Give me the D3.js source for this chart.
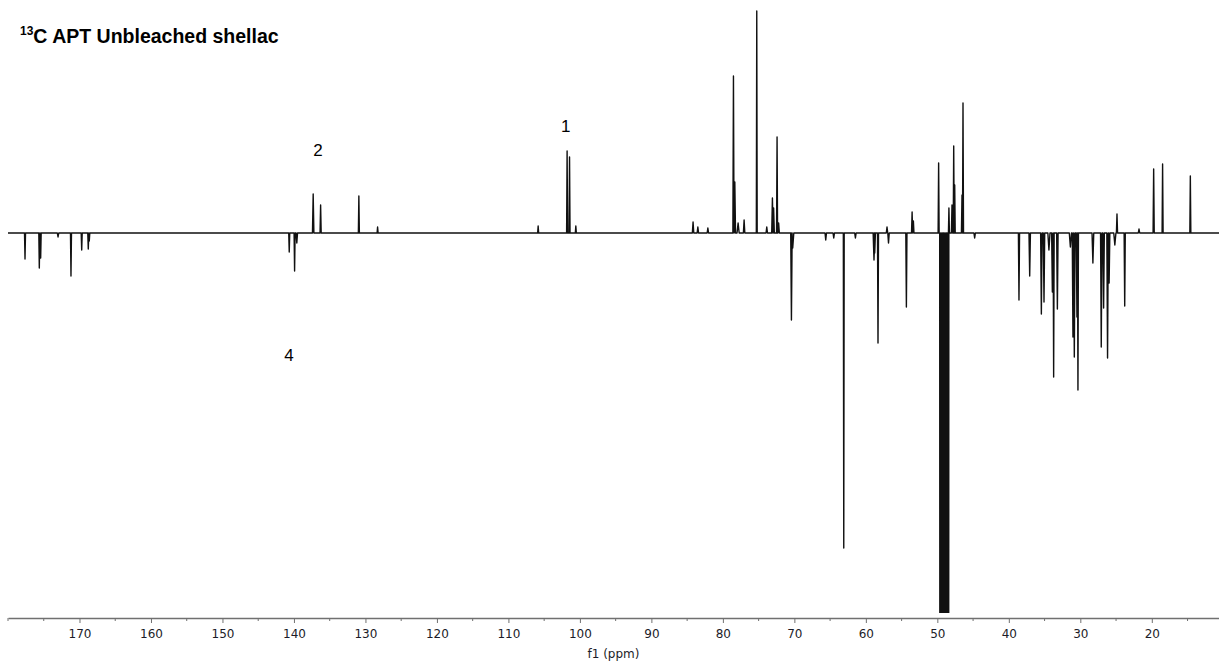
<!DOCTYPE html>
<html>
<head>
<meta charset="utf-8">
<script src="https://cdn.jsdelivr.net/npm/d3@7"></script>
<style>
  body { margin: 0; background: #fff; }
  .tick text { font-family: "DejaVu Sans", Tahoma, sans-serif; font-size: 12px; fill: #1c1c28; }
  .axis path, .axis line { stroke: #707070; }
</style>
</head>
<body>
<script>
//data: peak list [ppm, intensity (arb. units), half-width ppm]
var peakPpm = [
    177.62, 175.62, 175.43, 173.0, 171.19, 169.69, 168.77, 168.63,
    140.66, 139.91, 139.6, 137.31, 136.27, 130.92, 128.3,
    105.84, 101.79, 101.45, 100.57,
    84.17, 83.5, 82.1, 78.52, 78.33, 77.87, 77.03, 75.26, 73.86, 73.07, 72.9, 72.42, 72.2,
    70.41, 70.23, 65.61, 64.49, 63.09, 61.46, 58.86, 58.76, 58.3, 57.04, 56.83,
    54.33, 53.53, 53.35, 49.82,
    49.60, 49.41, 49.22, 49.03, 48.84, 48.65, 48.46,
    48.38, 47.95, 47.71, 47.57, 46.55, 46.41, 44.78,
    38.58, 37.08, 35.45, 35.08, 34.39, 33.91, 33.73, 33.21,
    31.39, 31.03, 30.84, 30.47, 30.33, 28.24, 27.07, 26.74, 26.19, 25.97, 25.17, 24.87,
    23.79, 21.79, 19.74, 18.49, 14.61
];
var peakInt = [
    -26, -35, -25, -4, -43, -17, -16, -8,
    -19, -38, -10, 39, 28, 37, 6,
    7, 82, 76, 7,
    11, 6, 5, 157, 51, 10, 13, 222, 6, 35, 25, 96, 10,
    -87, -15, -7, -5, -315, -5, -27, -20, -110, 6, -10,
    -74, 21, 12, 70,
    -1500, -4500, -9000, -10500, -9000, -4500, -1500,
    25, 28, 87, 48, 38, 130, -5,
    -67, -43, -81, -69, -17, -59, -144, -76,
    -14, -104, -124, -84, -157, -30, -114, -75, -125, -50, -12, 19,
    -73, 4, 64, 69, 57
];
var peakWidth = [
    0.07, 0.07, 0.07, 0.1, 0.07, 0.07, 0.07, 0.07,
    0.07, 0.07, 0.1, 0.1, 0.08, 0.07, 0.07,
    0.07, 0.07, 0.07, 0.07,
    0.1, 0.1, 0.1, 0.08, 0.1, 0.15, 0.1, 0.06, 0.1, 0.1, 0.1, 0.07, 0.1,
    0.1, 0.15, 0.1, 0.1, 0.06, 0.1, 0.12, 0.1, 0.07, 0.1, 0.1,
    0.08, 0.08, 0.08, 0.07,
    0.07, 0.07, 0.07, 0.07, 0.07, 0.07, 0.07,
    0.07, 0.08, 0.07, 0.07, 0.08, 0.07, 0.1,
    0.08, 0.1, 0.1, 0.1, 0.15, 0.1, 0.07, 0.1,
    0.15, 0.1, 0.1, 0.1, 0.07, 0.12, 0.1, 0.1, 0.1, 0.1, 0.15, 0.08,
    0.08, 0.1, 0.08, 0.07, 0.07
];
// peak labels
var labelText = ["1", "2", "4"];
var labelPpm = [101.97, 136.65, 140.7];
var labelInt = [107, 83, -122];
// axis ticks
var majorTicks = [170, 160, 150, 140, 130, 120, 110, 100, 90, 80, 70, 60, 50, 40, 30, 20];
var minorTicks = [180, 175, 165, 155, 145, 135, 125, 115, 105, 95, 85, 75, 65, 55, 45, 35, 25, 15];
var ppmBegin = 180, ppmEnd = 10.6;
var intMin = -380, intMax = 233;

var W = 1219, H = 665;
var m = [0, 0, 47, 8]; //top right bottom left
var plotBottom = 613;

var x = d3.scaleLinear().domain([ppmBegin, ppmEnd]).range([m[3], W - m[1]]);
var y = d3.scaleLinear().domain([intMin, intMax]).range([plotBottom, m[0]]);

var svg = d3.select("body").append("svg")
    .attr("width", W)
    .attr("height", H);

svg.append("defs").append("clipPath")
    .attr("id", "clip")
    .append("rect")
    .attr("x", m[3])
    .attr("y", 0)
    .attr("width", W - m[3])
    .attr("height", plotBottom);

//build spectrum trace from the peak list
var peaks = peakPpm.map(function (p, i) { return { ppm: p, v: peakInt[i], w: peakWidth[i] }; })
    .sort(function (a, b) { return b.ppm - a.ppm; });
var pts = [[ppmBegin, 0]];
peaks.forEach(function (d) {
    pts.push([d.ppm + d.w, 0], [d.ppm, d.v], [d.ppm - d.w, 0]);
});
pts.push([ppmEnd, 0]);

var line = d3.line()
    .x(function (d) { return x(d[0]); })
    .y(function (d) { return y(d[1]); });

svg.append("g")
    .attr("clip-path", "url(#clip)")
    .append("path")
    .datum(pts)
    .attr("d", line)
    .attr("fill", "none")
    .attr("stroke", "#111")
    .attr("stroke-width", 1.4)
    .attr("stroke-linejoin", "round");

//x axis
var axisY = H - m[2];
var gx = svg.append("g")
    .attr("class", "axis")
    .attr("transform", "translate(0," + axisY + ")");
gx.call(d3.axisBottom(x).tickValues(majorTicks).tickSize(5).tickSizeOuter(0).tickPadding(6)
    .tickFormat(d3.format("d")));
gx.select(".domain").attr("stroke-width", 1.5);
gx.append("g").selectAll("line")
    .data(minorTicks)
    .enter().append("line")
    .attr("x1", function (d) { return x(d); })
    .attr("x2", function (d) { return x(d); })
    .attr("y1", 0)
    .attr("y2", 3)
    .attr("stroke", "#707070");

svg.append("text")
    .attr("x", (x.range()[0] + x.range()[1]) / 2)
    .attr("y", H - 7)
    .attr("text-anchor", "middle")
    .style("font-family", "'DejaVu Sans', Tahoma, sans-serif")
    .style("font-size", "12px")
    .style("fill", "#1c1c28")
    .text("f1 (ppm)");

//peak labels
svg.append("g").selectAll("text")
    .data(labelText)
    .enter().append("text")
    .attr("x", function (d, i) { return x(labelPpm[i]); })
    .attr("y", function (d, i) { return y(labelInt[i]); })
    .attr("dy", "0.35em")
    .attr("text-anchor", "middle")
    .style("font-family", "'Liberation Sans', Arial, sans-serif")
    .style("font-size", "17px")
    .text(function (d) { return d; });

//title
var title = svg.append("text")
    .attr("x", 20)
    .attr("y", 40)
    .style("font-family", "'Liberation Sans', Arial, sans-serif")
    .style("font-weight", "bold")
    .style("font-size", "19.5px");
title.append("tspan").attr("dy", "-0.45em").style("font-size", "12px").text("13");
title.append("tspan").attr("dy", "0.45em").text("C APT Unbleached shellac");
</script>
</body>
</html>
